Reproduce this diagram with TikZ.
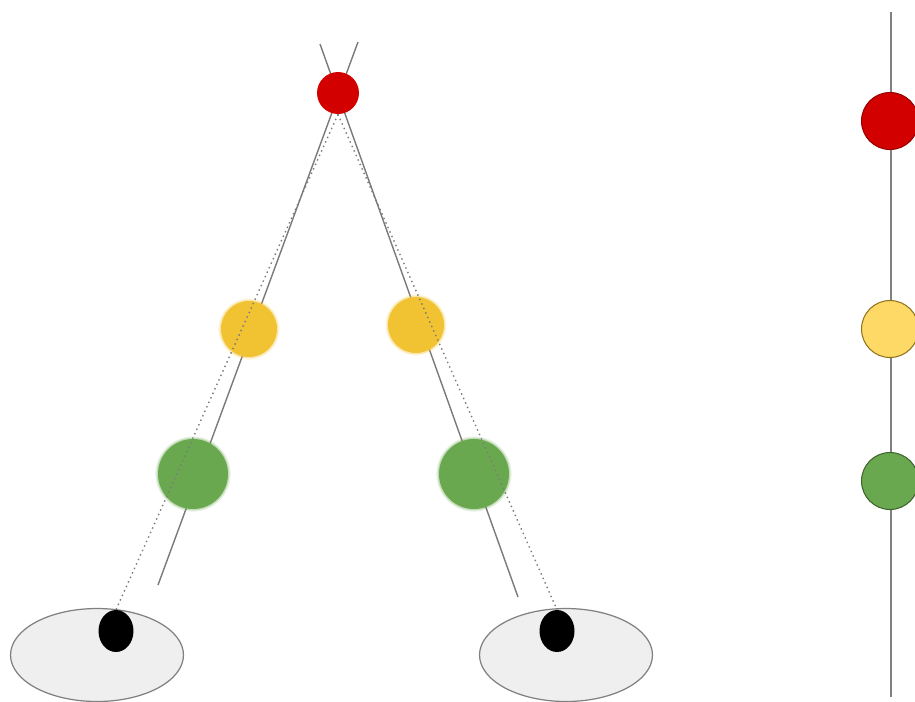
\documentclass[tikz,border=0pt]{standalone}
\usetikzlibrary{shapes.geometric,backgrounds}
\definecolor{redball}{HTML}{D30000}
\definecolor{yellowball}{HTML}{F1C232}
\definecolor{greenball}{HTML}{6AA84F}
\definecolor{paleyellow}{HTML}{FFD966}
\definecolor{eyegray}{HTML}{EFEFEF}
\definecolor{linegray}{HTML}{7A7A7A}
\tikzset{
	ball/.style={circle, inner sep=0pt, minimum size=#1},
	glow/.style={preaction={draw=#1, line width=3pt, draw opacity=0.15},
		preaction={draw=#1, line width=1.5pt, draw opacity=0.3}},
	sight/.style={draw=linegray, line width=0.8pt},
	dotsight/.style={draw=linegray, line width=0.8pt, dotted},
	eye/.style={ellipse, inner sep=0pt, minimum width=3.46cm, minimum height=1.86cm, fill=eyegray, draw=gray, line width=0.7pt},
	pupil/.style={ellipse, inner sep=0pt, minimum width=0.7cm, minimum height=0.84cm, fill=black},
}
\begin{document}
\begin{tikzpicture}[x=0.02cm,y=-0.02cm]
			\useasboundingbox (0,0) rectangle (915,701);
			% both eyes looking at the red ball
			\node[ball=0.84cm, fill=redball] (target) at (338,93){};
			\node[ball=1.12cm, fill=yellowball, glow=yellowball] (yl) at (249,329){};
			\node[ball=1.12cm, fill=yellowball, glow=yellowball] (yr) at (416,325){};
			\node[ball=1.4cm, fill=greenball, glow=greenball] (gl) at (193,474){};
			\node[ball=1.4cm, fill=greenball, glow=greenball] (gr) at (474,474){};
			\node[eye] (eyel) at (97,655){};
			\node[eye] (eyer) at (566,655){};
			\node[pupil] (pupill) at (116,631){};
			\node[pupil] (pupilr) at (557,631){};
			\coordinate (ray1a) at (320,44);
			\coordinate (ray1b) at (518,597);
			\coordinate (ray2a) at (358,42);
			\coordinate (ray2b) at (158,585);
			\begin{scope}[on background layer]
				\draw[sight] (ray1a) to (ray1b);
				\draw[sight] (ray2a) to (ray2b);
			\end{scope}
			\draw[dotsight] (target.south) to (pupill.north);
			\draw[dotsight] (target.south) to (pupilr.north);
			% what is seen along one line
			\coordinate (axtop) at (891,12);
			\coordinate (axbot) at (891,697);
			\draw[draw=gray, line width=0.8pt] (axtop) to (axbot);
			\foreach\y/\c/\b/\n in {121/redball/red!60!black/r, 329/paleyellow/yellowball!60!black/y, 481/greenball/greenball!60!black/g}{
				\node[ball=1.14cm, fill=\c, draw=\b, line width=0.6pt] (seen\n) at (890,\y){};
			}
		\end{tikzpicture}
\end{document}
